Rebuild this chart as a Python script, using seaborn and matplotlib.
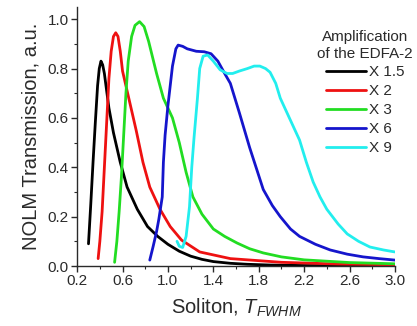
import matplotlib
matplotlib.use("Agg")
import matplotlib.pyplot as plt
from matplotlib.ticker import FixedLocator, FixedFormatter
from matplotlib.lines import Line2D
import seaborn as sns
import pandas as pd

# ---- data ----
labels = ["X 1.5", "X 2", "X 3", "X 6", "X 9"]
colors = ["#000000", "#ee1111", "#22dd22", "#1515cc", "#22eeee"]

x_ticks = [0.2, 0.6, 1.0, 1.4, 1.8, 2.2, 2.6, 3.0]
x_tick_labels = ["0.2", "0.6", "1.0", "1.4", "1.8", "2.2", "2.6", "3.0"]
x_minor = [0.4, 0.8, 1.2, 1.6, 2.0, 2.4, 2.8]
y_ticks = [0.0, 0.2, 0.4, 0.6, 0.8, 1.0]
y_tick_labels = ["0.0", "0.2", "0.4", "0.6", "0.8", "1.0"]
y_minor = [0.1, 0.3, 0.5, 0.7, 0.9]

x_15 = [0.30, 0.32, 0.34, 0.36, 0.38, 0.395, 0.41, 0.425, 0.44, 0.46, 0.48, 0.52, 0.58, 0.64,
        0.73, 0.82, 0.91, 1.00, 1.10, 1.20, 1.30, 1.40, 1.55, 1.70, 1.90, 2.20, 2.60, 3.00]
y_15 = [0.09, 0.25, 0.42, 0.58, 0.73, 0.80, 0.83, 0.815, 0.78, 0.71, 0.64, 0.54, 0.42, 0.32,
        0.23, 0.16, 0.12, 0.088, 0.06, 0.04, 0.027, 0.018, 0.011, 0.007, 0.004, 0.002, 0.001, 0.0]

x_2 = [0.385, 0.40, 0.42, 0.44, 0.46, 0.48, 0.50, 0.52, 0.54, 0.56, 0.58, 0.60, 0.64, 0.68,
       0.72, 0.78, 0.84, 0.93, 1.02, 1.12, 1.28, 1.55, 2.00, 2.50, 3.00]
y_2 = [0.03, 0.10, 0.22, 0.40, 0.58, 0.76, 0.87, 0.93, 0.945, 0.93, 0.87, 0.79, 0.71, 0.63,
       0.55, 0.42, 0.32, 0.23, 0.16, 0.105, 0.057, 0.03, 0.015, 0.008, 0.005]

x_3 = [0.53, 0.55, 0.57, 0.59, 0.61, 0.63, 0.65, 0.68, 0.71, 0.75, 0.79, 0.83, 0.90, 0.96,
       1.04, 1.10, 1.16, 1.22, 1.30, 1.40, 1.50, 1.61, 1.72, 1.84, 2.00, 2.20, 2.60, 3.00]
y_3 = [0.015, 0.10, 0.22, 0.36, 0.53, 0.70, 0.83, 0.93, 0.975, 0.99, 0.97, 0.91, 0.78, 0.68,
       0.60, 0.50, 0.38, 0.28, 0.21, 0.15, 0.12, 0.093, 0.07, 0.053, 0.037, 0.025, 0.014, 0.009]

x_6 = [0.84, 0.87, 0.90, 0.92, 0.95, 0.96, 0.975, 1.00, 1.04, 1.07, 1.09, 1.13, 1.17, 1.25,
       1.32, 1.38, 1.44, 1.50, 1.55, 1.63, 1.72, 1.84, 1.92, 1.99, 2.08, 2.16, 2.30, 2.43, 2.58,
       2.72, 2.86, 3.00]
y_6 = [0.024, 0.08, 0.14, 0.19, 0.28, 0.42, 0.53, 0.65, 0.81, 0.88, 0.895, 0.89, 0.88, 0.87,
       0.868, 0.86, 0.83, 0.78, 0.74, 0.62, 0.48, 0.31, 0.245, 0.20, 0.15, 0.12, 0.088, 0.065,
       0.048, 0.037, 0.03, 0.024]

x_9 = [1.08, 1.10, 1.13, 1.16, 1.19, 1.21, 1.23, 1.26, 1.28, 1.31, 1.35, 1.40, 1.46, 1.52,
       1.57, 1.63, 1.70, 1.76, 1.81, 1.86, 1.90, 1.95, 1.99, 2.04, 2.08, 2.16, 2.22, 2.28, 2.34,
       2.40, 2.50, 2.58, 2.68, 2.78, 2.90, 3.00]
y_9 = [0.10, 0.08, 0.075, 0.12, 0.24, 0.40, 0.52, 0.68, 0.80, 0.85, 0.855, 0.83, 0.795, 0.78,
       0.78, 0.79, 0.80, 0.81, 0.81, 0.80, 0.785, 0.74, 0.68, 0.63, 0.59, 0.51, 0.42, 0.34, 0.28,
       0.23, 0.17, 0.13, 0.10, 0.077, 0.065, 0.057]

xs = [x_15, x_2, x_3, x_6, x_9]
ys = [y_15, y_2, y_3, y_6, y_9]

rows = []
for lab, xx, yy in zip(labels, xs, ys):
    for i, (a, b) in enumerate(zip(xx, yy)):
        rows.append({"series": lab, "order": i, "x": a, "y": b})
df = pd.DataFrame(rows)

sns.set_style("ticks")
plt.rcParams["font.family"] = ["Liberation Sans", "DejaVu Sans"]
plt.rcParams["mathtext.fontset"] = "custom"
plt.rcParams["mathtext.rm"] = "Liberation Sans"
plt.rcParams["mathtext.it"] = "Liberation Sans:italic"

fig = plt.figure(figsize=(4.17, 3.26), dpi=100)
ax = fig.add_axes([0.185, 0.184, 0.762, 0.795])

sns.lineplot(data=df, x="x", y="y", hue="series", hue_order=labels,
             palette=dict(zip(labels, colors)), sort=False, estimator=None,
             units="series", linewidth=2.0, legend=False, ax=ax)

ax.set_xlim(0.2, 3.0)
ax.set_ylim(0.0, 1.05)
ax.xaxis.set_major_locator(FixedLocator(x_ticks))
ax.xaxis.set_major_formatter(FixedFormatter(x_tick_labels))
ax.xaxis.set_minor_locator(FixedLocator(x_minor))
ax.yaxis.set_major_locator(FixedLocator(y_ticks))
ax.yaxis.set_major_formatter(FixedFormatter(y_tick_labels))
ax.yaxis.set_minor_locator(FixedLocator(y_minor))

txtc = "#2a2a2a"
for s in ["top", "right"]:
    ax.spines[s].set_visible(False)
for s in ["left", "bottom"]:
    ax.spines[s].set_color(txtc)
    ax.spines[s].set_linewidth(1.0)
ax.tick_params(which="major", direction="out", length=4, width=1.0, colors=txtc,
               labelsize=11, pad=2)
ax.tick_params(which="minor", direction="out", length=2.5, width=0.8, colors=txtc)

ax.set_xlabel(r"Soliton, $T_{FWHM}$", fontsize=14.5, color=txtc, labelpad=6)
ax.set_ylabel("NOLM Transmission, a.u.", fontsize=14.5, color=txtc, labelpad=5)

handles = [Line2D([0], [0], color=c, lw=2.0) for c in colors]
leg = ax.legend(handles, labels, title="Amplification\nof the EDFA-2",
                loc="upper right", bbox_to_anchor=(1.012, 0.935),
                bbox_transform=fig.transFigure, frameon=False,
                fontsize=11, title_fontsize=11, handlelength=2.6,
                handletextpad=0.2, labelspacing=0.32, borderpad=0.1)
leg.get_title().set_multialignment("center")
leg.get_title().set_color(txtc)
for t in leg.get_texts():
    t.set_color(txtc)

fig.savefig("out.png", dpi=100)
